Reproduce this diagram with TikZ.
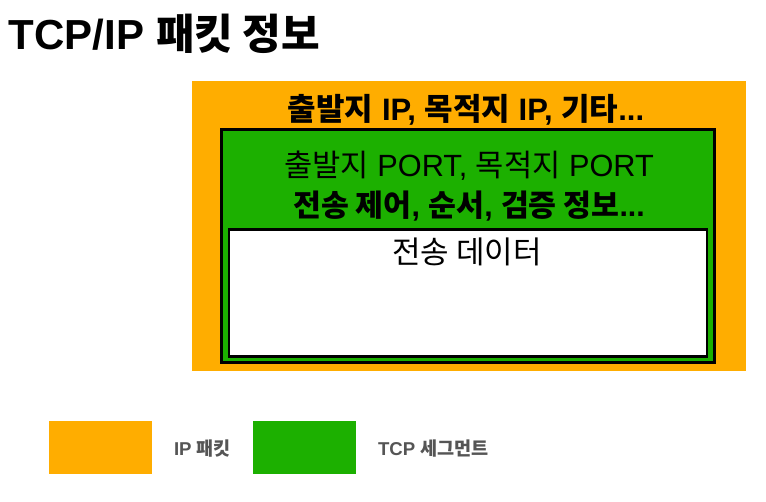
\documentclass[tikz,border=0pt]{standalone}
\usepackage{fontspec}
\setmainfont{Liberation Sans}
\newfontfamily\kr{Noto Sans CJK KR}
\newcommand\hg[1]{{\kr #1}}
\usetikzlibrary{positioning}
\definecolor{ipcolor}{RGB}{255,173,0}
\definecolor{tcpcolor}{RGB}{28,176,0}
\definecolor{legendgray}{RGB}{85,85,85}

\begin{document}
\begin{tikzpicture}[
  x=1pt, y=-1pt,
  inner sep=0pt, outer sep=0pt,
  box/.style={rectangle, anchor=north west},
  ipbox/.style={box, fill=ipcolor},
  tcpbox/.style={box, fill=tcpcolor, draw=black, line width=3pt},
  databox/.style={box, fill=white, draw=black, line width=2.3pt},
  legendbox/.style={box, minimum width=103pt, minimum height=53pt},
  legendtext/.style={anchor=base west, text=legendgray, font=\fontsize{18.6}{20}\selectfont\bfseries}]

  \useasboundingbox (0,0) rectangle (766,501);

  % title
  \node[anchor=base west, font=\fontsize{42}{46}\selectfont\bfseries] (title) at (9,49) {TCP/IP \hg{패킷 정보}};

  % packet boxes
  \node[ipbox, minimum width=554pt, minimum height=290pt] (ip) at (192,81) {};
  \node[tcpbox, minimum width=493.3pt, minimum height=233.3pt] (tcp) at (221.5,129.5) {};
  \node[databox, minimum width=477.7pt, minimum height=127.1pt] (data) at (229.2,229.5) {};

  % header texts
  \node[anchor=base, font=\fontsize{31}{34}\selectfont\bfseries] (iphead) at (466,120) {\hg{출발지} IP, \hg{목적지} IP, \hg{기타}...};
  \node[anchor=base, font=\fontsize{30.7}{34}\selectfont] (tcphead) at (469,176.5) {\hg{출발지} PORT, \hg{목적지} PORT};
  \node[anchor=base, font=\fontsize{30.3}{34}\selectfont\bfseries] (tcpctrl) at (469,216.5) {\hg{전송 제어}, \hg{순서}, \hg{검증 정보}...};
  \node[anchor=base, font=\fontsize{31}{34}\selectfont] (payload) at (467,263) {\hg{전송 데이터}};

  % legend
  \node[legendbox, fill=ipcolor] (iplegend) at (49,421) {};
  \node[legendtext] (iplabel) at (174,455) {IP \hg{패킷}};
  \node[legendbox, fill=tcpcolor] (tcplegend) at (253,421) {};
  \node[legendtext] (tcplabel) at (378,455) {TCP \hg{세그먼트}};
\end{tikzpicture}
\end{document}
